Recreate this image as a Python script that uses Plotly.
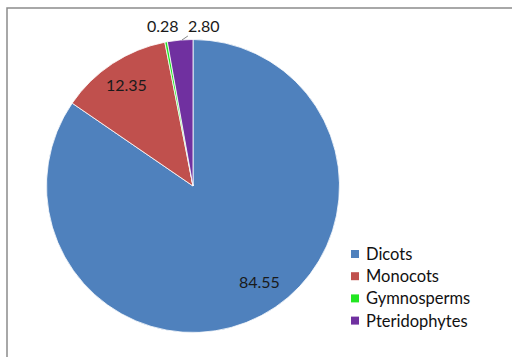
import plotly.graph_objects as go

groups = ["Dicots", "Monocots", "Gymnosperms", "Pteridophytes"]
shares = [84.55, 12.35, 0.28, 2.80]
colors = ["#4F81BD", "#C0504D", "#22E622", "#7030A0"]

W, H = 512, 357
cx, cy, r = 193, 186, 146.5

# value label anchors (pixel positions on the canvas) and optional leader tips
label_xy = [(259, 281), (126, 84), (163, 26), (204, 25)]
leader_tip = [None, None, None, (182, 40)]

# legend layout (pixels)
leg_x, leg_y0, leg_dy, box = 351, 254, 22.2, 8

def px(x):
    return x / W

def py(y):
    return 1 - y / H

fig = go.Figure(go.Pie(
    labels=groups,
    values=shares,
    textinfo="none",
    sort=False,
    direction="clockwise",
    rotation=0,
    marker=dict(colors=colors, line=dict(color="white", width=0.8)),
    domain=dict(x=[px(cx - r), px(cx + r)], y=[py(cy + r), py(cy - r)]),
    hoverinfo="label+value",
    showlegend=False,
))

annotations = []
for v, (lx, ly), tip in zip(shares, label_xy, leader_tip):
    ann = dict(text=f"{v:.2f}", xref="paper", yref="paper",
               font=dict(family="Lato", size=16, color="#1a1a1a"))
    if tip is None:
        ann.update(x=px(lx), y=py(ly), showarrow=False,
                   xanchor="center", yanchor="middle")
    else:
        ann.update(x=px(tip[0]), y=py(tip[1]), showarrow=True, arrowhead=0,
                   arrowwidth=0.8, arrowcolor="#666",
                   ax=lx - tip[0], ay=ly - tip[1])
    annotations.append(ann)

shapes = [dict(type="rect", xref="paper", yref="paper",
               x0=px(7), x1=1.2, y0=-0.2, y1=py(8),
               line=dict(color="#8c8c8c", width=1.5))]

for i, (g, c) in enumerate(zip(groups, colors)):
    yc = leg_y0 + i * leg_dy
    shapes.append(dict(type="rect", xref="paper", yref="paper",
                       x0=px(leg_x), x1=px(leg_x + box),
                       y0=py(yc + box / 2), y1=py(yc - box / 2),
                       fillcolor=c, line=dict(width=0)))
    annotations.append(dict(text=g, xref="paper", yref="paper",
                            x=px(leg_x + box + 5), y=py(yc),
                            xanchor="left", yanchor="middle", showarrow=False,
                            font=dict(family="Lato", size=16.5, color="#111")))

fig.update_layout(
    width=W, height=H,
    margin=dict(l=0, r=0, t=0, b=0),
    paper_bgcolor="white",
    shapes=shapes,
    annotations=annotations,
)

fig.write_html("out.html")
